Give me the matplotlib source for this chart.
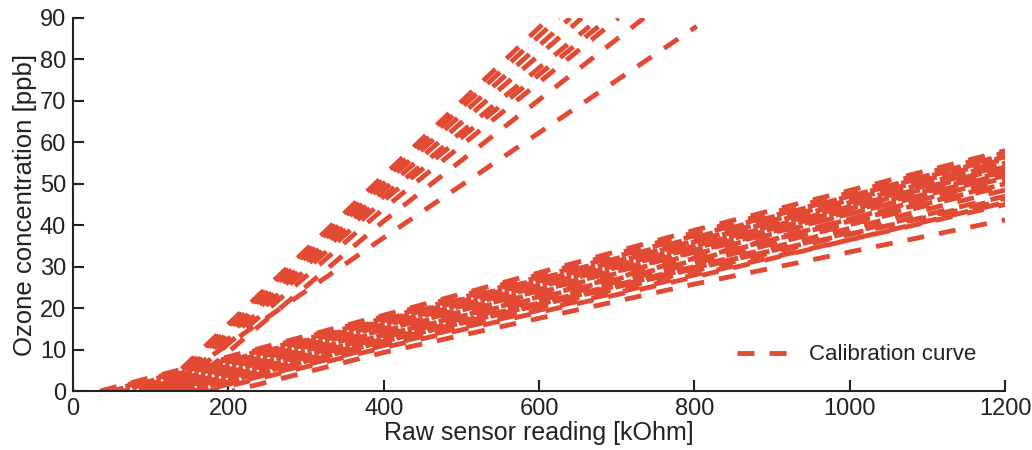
import numpy as np
import matplotlib.pyplot as plt

plt.rcParams['font.family'] = ['Liberation Sans', 'DejaVu Sans']

# shallow calibration curves: start x at 0 ppb, then ppb at 400, 800, 1200 kOhm
shallow_x = [0, 400, 800, 1200]
shallow_x0 = [35, 40, 45, 50, 55, 60, 65, 70, 75, 80, 85, 90, 95, 100, 105,
              110, 115, 120, 125, 130, 135, 140, 150, 155, 160, 165, 175, 205]
shallow_y400 = [18.3, 18.0, 17.5, 17.0, 17.2, 17.0, 16.8, 16.5, 16.2, 16.0,
                16.0, 15.8, 15.0, 15.0, 14.8, 14.5, 14.0, 13.5, 13.5, 13.0,
                13.0, 12.5, 12.0, 12.0, 11.5, 11.0, 10.5, 9.3]
shallow_y800 = [38.8, 38.2, 37.5, 37.0, 36.8, 36.0, 36.2, 35.5, 35.0, 35.0,
                34.6, 34.5, 34.0, 33.5, 33.6, 33.0, 32.0, 32.0, 31.5, 31.0,
                30.8, 30.0, 29.5, 29.8, 29.0, 28.0, 27.5, 25.8]
shallow_y1200 = [58.0, 57.5, 56.5, 57.0, 55.5, 55.0, 56.0, 55.0, 54.5, 54.0,
                 53.5, 53.0, 54.0, 52.0, 53.0, 52.5, 51.0, 50.0, 51.5, 50.0,
                 49.5, 48.5, 47.0, 46.0, 46.5, 45.0, 45.5, 41.3]

# steep calibration curves: start x at 0 ppb, ppb at 400 kOhm, end point
steep_x0 = [110, 112, 115, 118, 120, 125, 130, 140, 112]
steep_y400 = [52.0, 51.0, 50.0, 48.5, 47.0, 46.0, 44.0, 41.0, 37.0]
steep_xend = [613, 625, 640, 655, 665, 690, 702, 735, 803]
steep_yend = [90, 90, 90, 90, 88, 90, 90, 90, 88]

red = '#E24A33'
dark = '#222222'
dash = (3.5, 3.1)

fig = plt.figure(figsize=(10.32, 4.5), dpi=100)
ax = fig.add_axes([0.0707, 0.131, 0.9033, 0.829])

first = True
for i in range(len(shallow_x0)):
    xs = [shallow_x0[i]] + shallow_x[1:]
    ys = [0, shallow_y400[i], shallow_y800[i], shallow_y1200[i]]
    off = (i * 2.3) % 6.6 * 3.5
    ax.plot(xs, ys, color=red, lw=3.5, linestyle=(off, dash),
            label='Calibration curve' if first else None)
    first = False

for i in range(len(steep_x0)):
    xs = [steep_x0[i], 400, steep_xend[i]]
    ys = [0, steep_y400[i], steep_yend[i]]
    ax.plot(xs, ys, color=red, lw=3.5, dashes=dash)

ax.set_xlim(0, 1200)
ax.set_ylim(0, 90)
ax.set_xticks(np.arange(0, 1201, 200))
ax.set_yticks(np.arange(0, 91, 10))
for s in ['top', 'right']:
    ax.spines[s].set_visible(False)
for s in ['left', 'bottom']:
    ax.spines[s].set_linewidth(1.5)
    ax.spines[s].set_color(dark)
ax.tick_params(direction='in', length=8, width=1.5, color=dark,
               labelsize=17, labelcolor=dark, pad=5)
ax.set_xlabel('Raw sensor reading [kOhm]', fontsize=18, color=dark, labelpad=1)
ax.set_ylabel('Ozone concentration [ppb]', fontsize=18.5, color=dark, labelpad=2)

leg = ax.legend(loc='lower right', frameon=False, fontsize=16,
                handlelength=2.6, handletextpad=0.6,
                bbox_to_anchor=(0.99, 0.015))
for t in leg.get_texts():
    t.set_color(dark)

fig.savefig('out.png', dpi=100)
